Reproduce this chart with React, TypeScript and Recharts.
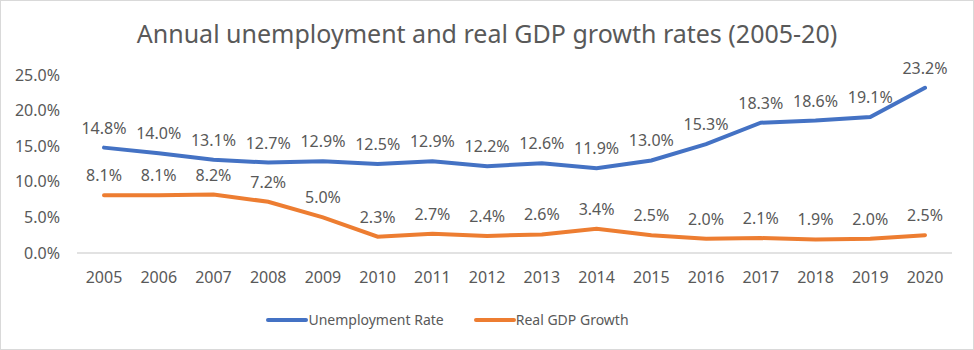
import React from 'react';
import { LineChart, Line, XAxis, YAxis, Legend, LabelList } from 'recharts';

const years = ['2005', '2006', '2007', '2008', '2009', '2010', '2011', '2012', '2013', '2014', '2015', '2016', '2017', '2018', '2019', '2020'];
const unemploymentRate = [14.8, 14.0, 13.1, 12.7, 12.9, 12.5, 12.9, 12.2, 12.6, 11.9, 13.0, 15.3, 18.3, 18.6, 19.1, 23.2];
const realGdpGrowth = [8.1, 8.1, 8.2, 7.2, 5.0, 2.3, 2.7, 2.4, 2.6, 3.4, 2.5, 2.0, 2.1, 1.9, 2.0, 2.5];
const yTicks = [0, 5, 10, 15, 20, 25];

const data = years.map((year, i) => ({
  year,
  unemployment: unemploymentRate[i],
  gdp: realGdpGrowth[i]
}));

const FONT = '"Noto Sans", "Open Sans", sans-serif';
const TEXT = '#595959';
const BLUE = '#4472C4';
const ORANGE = '#ED7D31';

const pct = (v: number) => `${Number(v).toFixed(1)}%`;

const legendItems = [
  { label: 'Unemployment Rate', color: BLUE },
  { label: 'Real GDP Growth', color: ORANGE }
];

const renderLegend = () => (
  <div style={{ display: 'flex', justifyContent: 'center', gap: 30, paddingRight: 58, fontFamily: FONT, fontSize: 14, color: TEXT }}>
    {legendItems.map(item => (
      <div key={item.label} style={{ display: 'flex', alignItems: 'center' }}>
        <svg width={42} height={10}>
          <line x1={2} y1={5} x2={40} y2={5} stroke={item.color} strokeWidth={4} strokeLinecap="round" />
        </svg>
        <span>{item.label}</span>
      </div>
    ))}
  </div>
);

const App: React.FC = () => {
  return (
    <div
      style={{
        position: 'absolute',
        left: 0,
        top: 0,
        width: 974,
        height: 350,
        boxSizing: 'border-box',
        border: '1px solid #d9d9d9',
        background: '#fff'
      }}
    >
      <div
        style={{
          position: 'absolute',
          top: 17,
          width: '100%',
          textAlign: 'center',
          fontFamily: FONT,
          fontSize: 25,
          lineHeight: '30px',
          color: TEXT,
          zIndex: 1
        }}
      >
        Annual unemployment and real GDP growth rates (2005-20)
      </div>
      <LineChart
        width={972}
        height={348}
        data={data}
        margin={{ top: 74, right: 21, left: 0, bottom: 19 }}
      >
        <XAxis
          dataKey="year"
          padding={{ left: 27, right: 27 }}
          axisLine={{ stroke: '#d9d9d9', strokeWidth: 1.5 }}
          tickLine={false}
          tickMargin={13}
          height={57}
          tick={{ fill: TEXT, fontSize: 16, fontFamily: FONT }}
        />
        <YAxis
          domain={[0, 25]}
          ticks={yTicks}
          tickFormatter={pct}
          axisLine={false}
          tickLine={false}
          width={76}
          tickMargin={11}
          tick={{ fill: TEXT, fontSize: 16, fontFamily: FONT }}
        />
        <Legend verticalAlign="bottom" height={20} content={renderLegend} />
        <Line
          type="linear"
          dataKey="unemployment"
          name="Unemployment Rate"
          stroke={BLUE}
          strokeWidth={4}
          strokeLinecap="round"
          dot={false}
          isAnimationActive={false}
        >
          <LabelList dataKey="unemployment" position="top" offset={14} formatter={pct} fill={TEXT} fontSize={16} fontFamily={FONT} />
        </Line>
        <Line
          type="linear"
          dataKey="gdp"
          name="Real GDP Growth"
          stroke={ORANGE}
          strokeWidth={4}
          strokeLinecap="round"
          dot={false}
          isAnimationActive={false}
        >
          <LabelList dataKey="gdp" position="top" offset={14} formatter={pct} fill={TEXT} fontSize={16} fontFamily={FONT} />
        </Line>
      </LineChart>
    </div>
  );
};

export default App;
